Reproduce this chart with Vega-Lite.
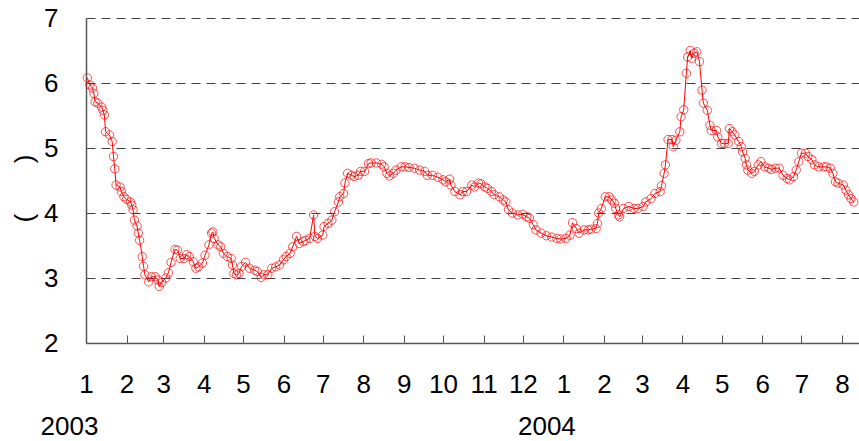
{
  "$schema": "https://vega.github.io/schema/vega-lite/v6.json",
  "width": 773,
  "height": 325,
  "autosize": {"type": "none"},
  "padding": {"left": 86, "top": 18, "right": 0, "bottom": 98},
  "background": "white",
  "config": {
    "view": {"stroke": null},
    "font": "Liberation Sans",
    "axis": {"labelFont": "Liberation Sans", "titleFont": "Liberation Sans", "labelColor": "#000000", "titleColor": "#000000"}
  },
  "data": {"values": [
    {"d":"2003-01-02","v":6.08},{"d":"2003-01-04","v":5.97},{"d":"2003-01-06","v":5.92},{"d":"2003-01-07","v":5.84},
    {"d":"2003-01-08","v":5.71},{"d":"2003-01-10","v":5.69},{"d":"2003-01-13","v":5.63},{"d":"2003-01-14","v":5.58},
    {"d":"2003-01-15","v":5.51},{"d":"2003-01-16","v":5.25},{"d":"2003-01-19","v":5.2},{"d":"2003-01-21","v":5.1},
    {"d":"2003-01-22","v":4.87},{"d":"2003-01-23","v":4.68},{"d":"2003-01-24","v":4.43},{"d":"2003-01-27","v":4.4},
    {"d":"2003-01-28","v":4.33},{"d":"2003-01-30","v":4.25},{"d":"2003-02-01","v":4.21},{"d":"2003-02-04","v":4.17},
    {"d":"2003-02-05","v":4.12},{"d":"2003-02-06","v":4.05},{"d":"2003-02-07","v":3.89},{"d":"2003-02-09","v":3.8},
    {"d":"2003-02-10","v":3.69},{"d":"2003-02-11","v":3.58},{"d":"2003-02-13","v":3.33},{"d":"2003-02-14","v":3.18},
    {"d":"2003-02-15","v":3.05},{"d":"2003-02-18","v":2.94},{"d":"2003-02-20","v":3.02},{"d":"2003-02-23","v":3.02},
    {"d":"2003-02-25","v":2.97},{"d":"2003-02-26","v":2.87},{"d":"2003-02-28","v":2.93},{"d":"2003-03-03","v":3.0},
    {"d":"2003-03-05","v":3.08},{"d":"2003-03-07","v":3.24},{"d":"2003-03-10","v":3.44},{"d":"2003-03-12","v":3.43},
    {"d":"2003-03-14","v":3.3},{"d":"2003-03-17","v":3.3},{"d":"2003-03-19","v":3.36},{"d":"2003-03-21","v":3.33},
    {"d":"2003-03-24","v":3.25},{"d":"2003-03-26","v":3.15},{"d":"2003-03-28","v":3.17},{"d":"2003-03-31","v":3.23},
    {"d":"2003-04-02","v":3.35},{"d":"2003-04-05","v":3.51},{"d":"2003-04-07","v":3.69},{"d":"2003-04-08","v":3.71},
    {"d":"2003-04-09","v":3.61},{"d":"2003-04-12","v":3.51},{"d":"2003-04-14","v":3.48},{"d":"2003-04-16","v":3.38},
    {"d":"2003-04-19","v":3.33},{"d":"2003-04-22","v":3.3},{"d":"2003-04-23","v":3.2},{"d":"2003-04-24","v":3.07},
    {"d":"2003-04-26","v":3.05},{"d":"2003-04-28","v":3.07},{"d":"2003-04-30","v":3.18},{"d":"2003-05-03","v":3.24},
    {"d":"2003-05-06","v":3.15},{"d":"2003-05-10","v":3.12},{"d":"2003-05-12","v":3.1},{"d":"2003-05-15","v":3.01},
    {"d":"2003-05-17","v":3.05},{"d":"2003-05-20","v":3.05},{"d":"2003-05-23","v":3.15},{"d":"2003-05-26","v":3.17},
    {"d":"2003-05-29","v":3.2},{"d":"2003-06-01","v":3.28},{"d":"2003-06-03","v":3.33},{"d":"2003-06-06","v":3.38},
    {"d":"2003-06-08","v":3.48},{"d":"2003-06-11","v":3.64},{"d":"2003-06-13","v":3.53},{"d":"2003-06-16","v":3.56},
    {"d":"2003-06-18","v":3.58},{"d":"2003-06-21","v":3.61},{"d":"2003-06-24","v":3.97},{"d":"2003-06-25","v":3.64},
    {"d":"2003-06-27","v":3.61},{"d":"2003-07-01","v":3.66},{"d":"2003-07-02","v":3.79},{"d":"2003-07-05","v":3.84},
    {"d":"2003-07-08","v":3.89},{"d":"2003-07-10","v":4.02},{"d":"2003-07-13","v":4.17},{"d":"2003-07-14","v":4.25},
    {"d":"2003-07-17","v":4.3},{"d":"2003-07-18","v":4.46},{"d":"2003-07-20","v":4.61},{"d":"2003-07-23","v":4.58},
    {"d":"2003-07-25","v":4.56},{"d":"2003-07-28","v":4.58},{"d":"2003-07-30","v":4.64},{"d":"2003-08-02","v":4.64},
    {"d":"2003-08-05","v":4.76},{"d":"2003-08-07","v":4.77},{"d":"2003-08-11","v":4.77},{"d":"2003-08-15","v":4.75},
    {"d":"2003-08-17","v":4.71},{"d":"2003-08-19","v":4.61},{"d":"2003-08-21","v":4.57},{"d":"2003-08-24","v":4.61},
    {"d":"2003-08-26","v":4.66},{"d":"2003-08-30","v":4.71},{"d":"2003-09-02","v":4.71},{"d":"2003-09-05","v":4.7},
    {"d":"2003-09-09","v":4.69},{"d":"2003-09-13","v":4.66},{"d":"2003-09-17","v":4.64},{"d":"2003-09-19","v":4.58},
    {"d":"2003-09-23","v":4.58},{"d":"2003-09-27","v":4.55},{"d":"2003-10-01","v":4.51},{"d":"2003-10-03","v":4.48},
    {"d":"2003-10-06","v":4.52},{"d":"2003-10-07","v":4.43},{"d":"2003-10-10","v":4.33},{"d":"2003-10-14","v":4.28},
    {"d":"2003-10-16","v":4.33},{"d":"2003-10-19","v":4.33},{"d":"2003-10-23","v":4.43},{"d":"2003-10-25","v":4.4},
    {"d":"2003-10-28","v":4.46},{"d":"2003-10-30","v":4.45},{"d":"2003-11-02","v":4.4},{"d":"2003-11-04","v":4.38},
    {"d":"2003-11-07","v":4.33},{"d":"2003-11-09","v":4.28},{"d":"2003-11-13","v":4.25},{"d":"2003-11-16","v":4.2},
    {"d":"2003-11-18","v":4.17},{"d":"2003-11-20","v":4.05},{"d":"2003-11-23","v":4.0},{"d":"2003-11-27","v":3.97},
    {"d":"2003-12-01","v":3.98},{"d":"2003-12-04","v":3.94},{"d":"2003-12-06","v":3.92},{"d":"2003-12-09","v":3.82},
    {"d":"2003-12-11","v":3.74},{"d":"2003-12-15","v":3.69},{"d":"2003-12-19","v":3.65},{"d":"2003-12-23","v":3.63},
    {"d":"2003-12-27","v":3.61},{"d":"2003-12-30","v":3.6},{"d":"2004-01-03","v":3.61},{"d":"2004-01-06","v":3.66},
    {"d":"2004-01-08","v":3.85},{"d":"2004-01-11","v":3.76},{"d":"2004-01-13","v":3.69},{"d":"2004-01-17","v":3.74},
    {"d":"2004-01-20","v":3.74},{"d":"2004-01-22","v":3.75},{"d":"2004-01-26","v":3.76},{"d":"2004-01-27","v":3.84},
    {"d":"2004-01-28","v":4.0},{"d":"2004-01-30","v":4.07},{"d":"2004-02-02","v":4.25},{"d":"2004-02-05","v":4.25},
    {"d":"2004-02-07","v":4.2},{"d":"2004-02-09","v":4.15},{"d":"2004-02-10","v":4.07},{"d":"2004-02-12","v":3.97},
    {"d":"2004-02-13","v":3.94},{"d":"2004-02-16","v":4.07},{"d":"2004-02-20","v":4.1},{"d":"2004-02-24","v":4.07},
    {"d":"2004-02-27","v":4.07},{"d":"2004-03-02","v":4.1},{"d":"2004-03-04","v":4.17},{"d":"2004-03-08","v":4.22},
    {"d":"2004-03-11","v":4.3},{"d":"2004-03-15","v":4.33},{"d":"2004-03-16","v":4.42},{"d":"2004-03-18","v":4.61},
    {"d":"2004-03-19","v":4.74},{"d":"2004-03-21","v":5.13},{"d":"2004-03-24","v":5.13},{"d":"2004-03-25","v":5.02},
    {"d":"2004-03-27","v":5.12},{"d":"2004-03-30","v":5.25},{"d":"2004-03-31","v":5.48},{"d":"2004-04-02","v":5.59},
    {"d":"2004-04-04","v":6.15},{"d":"2004-04-05","v":6.4},{"d":"2004-04-07","v":6.5},{"d":"2004-04-08","v":6.38},
    {"d":"2004-04-10","v":6.46},{"d":"2004-04-12","v":6.48},{"d":"2004-04-14","v":6.33},{"d":"2004-04-16","v":5.89},
    {"d":"2004-04-17","v":5.69},{"d":"2004-04-20","v":5.58},{"d":"2004-04-22","v":5.35},{"d":"2004-04-23","v":5.27},
    {"d":"2004-04-27","v":5.27},{"d":"2004-04-28","v":5.17},{"d":"2004-05-01","v":5.07},{"d":"2004-05-03","v":5.07},
    {"d":"2004-05-06","v":5.07},{"d":"2004-05-07","v":5.3},{"d":"2004-05-09","v":5.25},{"d":"2004-05-11","v":5.2},
    {"d":"2004-05-14","v":5.1},{"d":"2004-05-16","v":5.02},{"d":"2004-05-17","v":4.94},{"d":"2004-05-19","v":4.84},
    {"d":"2004-05-20","v":4.74},{"d":"2004-05-21","v":4.66},{"d":"2004-05-24","v":4.61},{"d":"2004-05-26","v":4.64},
    {"d":"2004-05-29","v":4.74},{"d":"2004-05-31","v":4.79},{"d":"2004-06-03","v":4.71},{"d":"2004-06-06","v":4.69},
    {"d":"2004-06-08","v":4.67},{"d":"2004-06-11","v":4.69},{"d":"2004-06-14","v":4.69},{"d":"2004-06-17","v":4.58},
    {"d":"2004-06-20","v":4.53},{"d":"2004-06-22","v":4.51},{"d":"2004-06-25","v":4.56},{"d":"2004-06-27","v":4.66},
    {"d":"2004-06-29","v":4.79},{"d":"2004-07-01","v":4.92},{"d":"2004-07-04","v":4.92},{"d":"2004-07-06","v":4.87},
    {"d":"2004-07-09","v":4.82},{"d":"2004-07-11","v":4.74},{"d":"2004-07-14","v":4.71},{"d":"2004-07-18","v":4.71},
    {"d":"2004-07-20","v":4.71},{"d":"2004-07-23","v":4.69},{"d":"2004-07-25","v":4.61},{"d":"2004-07-27","v":4.48},
    {"d":"2004-07-29","v":4.46},{"d":"2004-08-02","v":4.43},{"d":"2004-08-04","v":4.35},{"d":"2004-08-06","v":4.28},
    {"d":"2004-08-08","v":4.22},{"d":"2004-08-10","v":4.17}
  ]},
  "layer": [
    {
      "mark": {"type": "line", "color": "#ff0000", "strokeWidth": 1},
      "encoding": {
        "x": {
          "field": "d", "type": "temporal",
          "scale": {"type": "utc", "domain": [{"year": 2003, "month": 1, "date": 1, "utc": true}, {"year": 2004, "month": 8, "date": 14, "utc": true}]},
          "axis": {
            "orient": "bottom", "title": null, "grid": false,
            "tickCount": {"interval": "month", "step": 1},
            "labelExpr": "utcFormat(datum.value, '%-m')",
            "labelFlush": false, "labelOverlap": false, "labelBound": false,
            "labelFontSize": 26, "labelPadding": 36,
            "tickSize": -8, "tickColor": "#555555", "tickWidth": 1,
            "domainColor": "#555555", "domainWidth": 1.5
          }
        },
        "y": {
          "field": "v", "type": "quantitative",
          "scale": {"domain": [2, 7], "nice": false, "zero": false},
          "axis": {
            "values": [2, 3, 4, 5, 6, 7],
            "format": "d",
            "title": "(\u00a0\u00a0\u00a0\u00a0\u00a0\u00a0\u00a0)",
            "titleFontSize": 26, "titleFontWeight": "normal", "titlePadding": 6, "titleY": 170,
            "labelFontSize": 26, "labelPadding": 28, "ticks": false,
            "grid": true, "gridColor": "#404040", "gridDash": [9, 6], "gridWidth": 1,
            "domainColor": "#555555", "domainWidth": 1.5
          }
        }
      }
    },
    {
      "mark": {"type": "point", "shape": "circle", "filled": false, "color": "#ff0000", "size": 70, "strokeWidth": 1},
      "encoding": {
        "x": {
          "field": "d", "type": "temporal",
          "axis": {
            "orient": "bottom", "title": null, "grid": false, "domain": false, "ticks": false,
            "values": [{"year": 2003, "month": 1, "date": 1, "utc": true}, {"year": 2004, "month": 1, "date": 1, "utc": true}],
            "labelExpr": "utcFormat(datum.value, '%Y')",
            "labelFlush": false, "labelOverlap": false, "labelBound": false,
            "labelFontSize": 26, "labelPadding": 70, "labelOffset": -17
          }
        },
        "y": {"field": "v", "type": "quantitative", "axis": {"format": "d"}}
      }
    }
  ],
  "resolve": {"axis": {"x": "independent"}}
}
